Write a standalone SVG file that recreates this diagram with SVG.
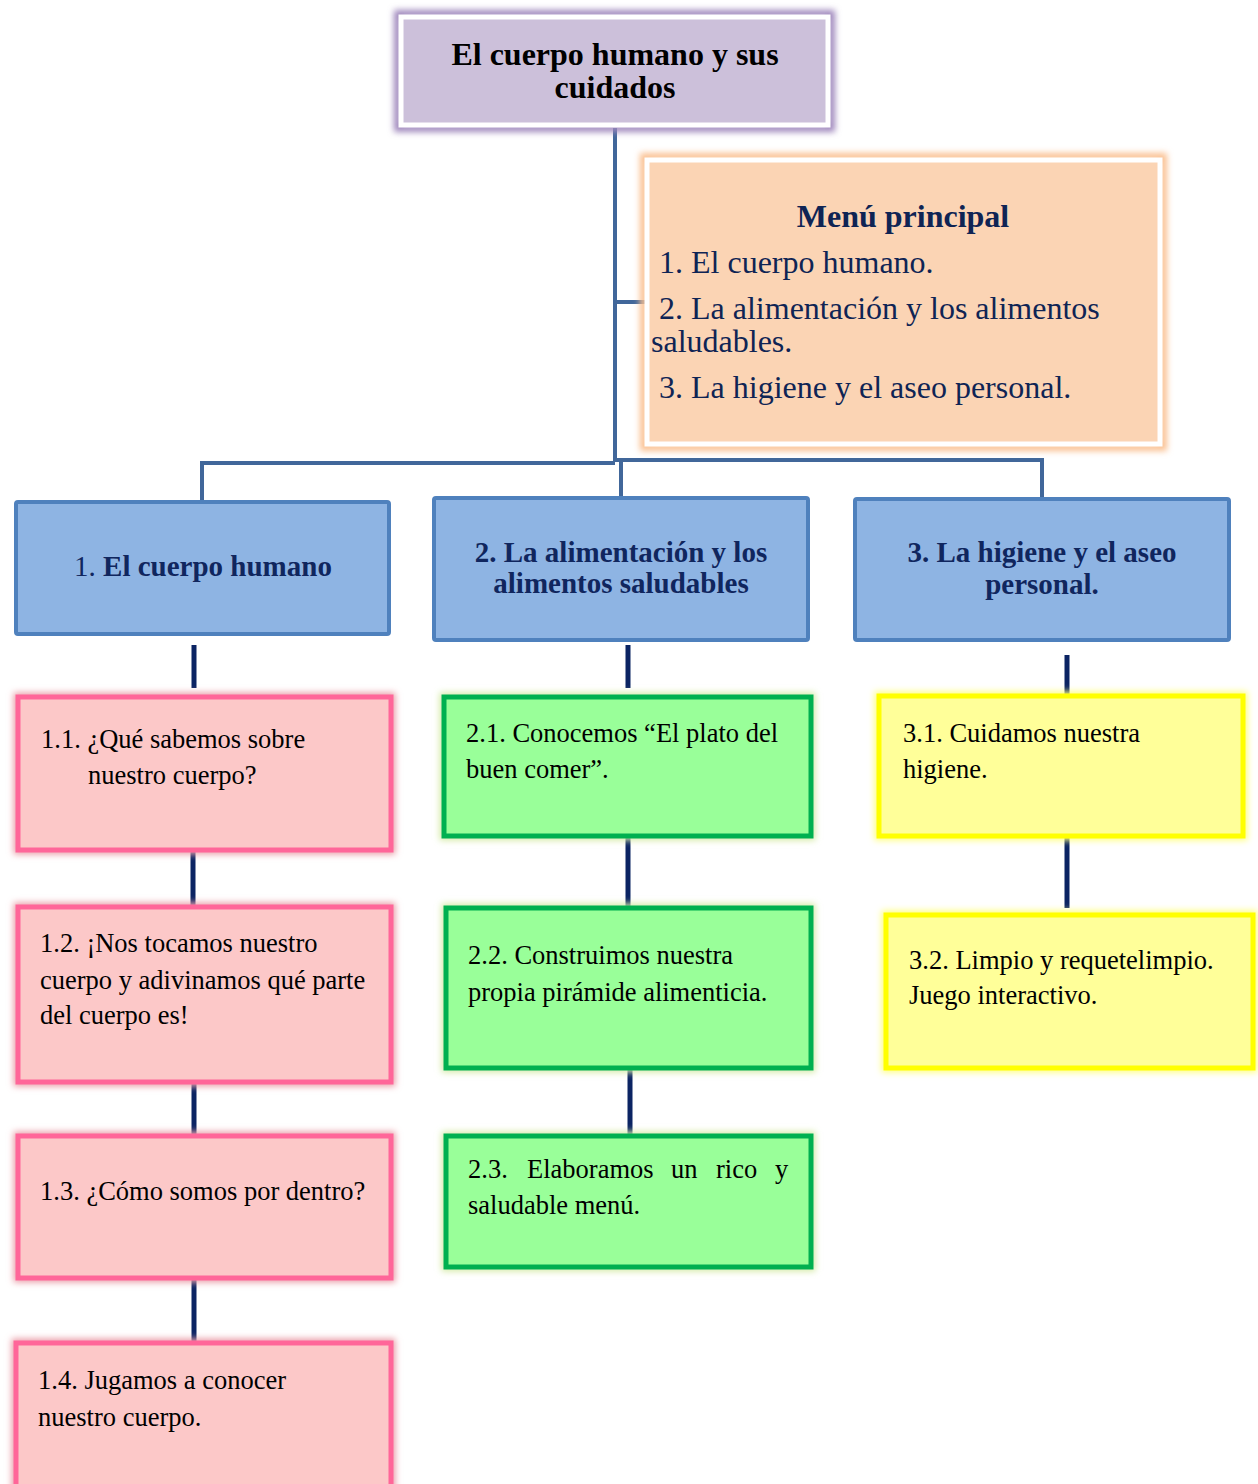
<svg xmlns="http://www.w3.org/2000/svg" width="1258" height="1484" viewBox="0 0 1258 1484">
<defs>
<filter id="blur" x="-10%" y="-10%" width="120%" height="120%"><feGaussianBlur stdDeviation="3"/></filter>
<style>
.t{font-family:"Liberation Serif","Times New Roman",serif;}
.title{font-size:32px;font-weight:bold;fill:#000;}
.menuh{font-size:32px;font-weight:bold;fill:#0F2454;}
.menu{font-size:32px;fill:#0F2454;}
.blue{font-size:29px;font-weight:bold;fill:#10265E;}
.sub{font-size:26.5px;fill:#000;}
.bl{fill:#8EB4E3;stroke:#4F81BD;stroke-width:4;}
.pk{fill:#FCC8C8;stroke:#FF6699;stroke-width:5;}
.gr{fill:#99FF99;stroke:#00B050;stroke-width:5;}
.yl{fill:#FFFF99;stroke:#FFFF00;stroke-width:5;}
.cb{stroke:#41679A;stroke-width:4;fill:none;}
.cd{stroke:#0B2463;stroke-width:5;fill:none;}
</style>
</defs>

<g id="connectors">
<path class="cb" d="M615,128 V462 M615,302 H648 M202,502 V463 H615 M615,460 H1042 V499 M621,460 V497"/>
<path class="cd" d="M194,645 V688 M628,645 V688 M1067,655 V696 M193,850 V907 M194,1082 V1137 M194,1278 V1343 M628,836 V908 M630,1068 V1137 M1067,836 V908"/>
</g>

<g id="title">
<rect x="398" y="14" width="433" height="114" fill="none" stroke="#9E86BC" stroke-width="8" filter="url(#blur)"/>
<rect x="401" y="17" width="427" height="108" fill="#CCC0DA" stroke="#FFFFFF" stroke-width="5"/>
<text class="t title" text-anchor="middle" x="615" y="65">El cuerpo humano y sus</text>
<text class="t title" text-anchor="middle" x="615" y="98">cuidados</text>
</g>

<g id="menu">
<rect x="644" y="157" width="519" height="290" fill="none" stroke="#FAC090" stroke-width="8" filter="url(#blur)"/>
<rect x="647" y="160" width="513" height="284" fill="#FBD4B4" stroke="#FFFFFF" stroke-width="5"/>
<text class="t menuh" text-anchor="middle" x="903" y="227">Menú principal</text>
<text class="t menu" x="659" y="273">1. El cuerpo humano.</text>
<text class="t menu" x="659" y="319">2. La alimentación y los alimentos</text>
<text class="t menu" x="651" y="352">saludables.</text>
<text class="t menu" x="659" y="398">3. La higiene y el aseo personal.</text>
</g>

<g id="b1">
<rect class="bl" x="16" y="502" width="373" height="132" rx="2"/>
<text class="t blue" text-anchor="middle" x="203" y="576"><tspan font-weight="normal">1. </tspan>El cuerpo humano</text>
</g>
<g id="b2">
<rect class="bl" x="434" y="498" width="374" height="142" rx="2"/>
<text class="t blue" text-anchor="middle" x="621" y="562">2. La alimentación y los</text>
<text class="t blue" text-anchor="middle" x="621" y="593">alimentos saludables</text>
</g>
<g id="b3">
<rect class="bl" x="855" y="499" width="374" height="141" rx="2"/>
<text class="t blue" text-anchor="middle" x="1042" y="562">3. La higiene y el aseo</text>
<text class="t blue" text-anchor="middle" x="1042" y="594">personal.</text>
</g>

<g id="n11">
<rect x="18" y="697" width="373" height="153" fill="none" stroke="#EBA0AA" stroke-width="9" filter="url(#blur)"/>
<rect class="pk" x="18" y="697" width="373" height="153"/>
<text class="t sub" x="41" y="748">1.1. ¿Qué sabemos sobre</text>
<text class="t sub" x="88" y="784">nuestro cuerpo?</text>
</g>
<g id="n12">
<rect x="18" y="907" width="373" height="175" fill="none" stroke="#EBA0AA" stroke-width="9" filter="url(#blur)"/>
<rect class="pk" x="18" y="907" width="373" height="175"/>
<text class="t sub" x="40" y="952">1.2. ¡Nos tocamos nuestro</text>
<text class="t sub" x="40" y="989">cuerpo y adivinamos qué parte</text>
<text class="t sub" x="40" y="1024">del cuerpo es!</text>
</g>
<g id="n13">
<rect x="18" y="1136" width="373" height="142" fill="none" stroke="#EBA0AA" stroke-width="9" filter="url(#blur)"/>
<rect class="pk" x="18" y="1136" width="373" height="142"/>
<text class="t sub" x="40" y="1200">1.3. ¿Cómo somos por dentro?</text>
</g>
<g id="n14">
<rect x="16" y="1343" width="375" height="150" fill="none" stroke="#EBA0AA" stroke-width="9" filter="url(#blur)"/>
<rect class="pk" x="16" y="1343" width="375" height="150"/>
<text class="t sub" x="38" y="1389">1.4. Jugamos a conocer</text>
<text class="t sub" x="38" y="1426">nuestro cuerpo.</text>
</g>

<g id="n21">
<rect x="444" y="697" width="367" height="139" fill="none" stroke="#D6EBA8" stroke-width="9" filter="url(#blur)"/>
<rect class="gr" x="444" y="697" width="367" height="139"/>
<text class="t sub" x="466" y="742">2.1. Conocemos “El plato del</text>
<text class="t sub" x="466" y="778">buen comer”.</text>
</g>
<g id="n22">
<rect x="446" y="908" width="365" height="160" fill="none" stroke="#D6EBA8" stroke-width="9" filter="url(#blur)"/>
<rect class="gr" x="446" y="908" width="365" height="160"/>
<text class="t sub" x="468" y="964">2.2. Construimos nuestra</text>
<text class="t sub" x="468" y="1001">propia pirámide alimenticia.</text>
</g>
<g id="n23">
<rect x="446" y="1136" width="365" height="131" fill="none" stroke="#D6EBA8" stroke-width="9" filter="url(#blur)"/>
<rect class="gr" x="446" y="1136" width="365" height="131"/>
<text class="t sub" y="1178"><tspan x="468">2.3.</tspan><tspan x="527">Elaboramos</tspan><tspan x="671">un</tspan><tspan x="716">rico</tspan><tspan x="775">y</tspan></text>
<text class="t sub" x="468" y="1214">saludable menú.</text>
</g>

<g id="n31">
<rect x="879" y="696" width="364" height="140" fill="none" stroke="#FFFF80" stroke-width="9" filter="url(#blur)"/>
<rect class="yl" x="879" y="696" width="364" height="140"/>
<text class="t sub" x="903" y="742">3.1. Cuidamos nuestra</text>
<text class="t sub" x="903" y="778">higiene.</text>
</g>
<g id="n32">
<rect x="886" y="915" width="367" height="153" fill="none" stroke="#FFFF80" stroke-width="9" filter="url(#blur)"/>
<rect class="yl" x="886" y="915" width="367" height="153"/>
<text class="t sub" x="909" y="969">3.2. Limpio y requetelimpio.</text>
<text class="t sub" x="909" y="1004">Juego interactivo.</text>
</g>
</svg>
